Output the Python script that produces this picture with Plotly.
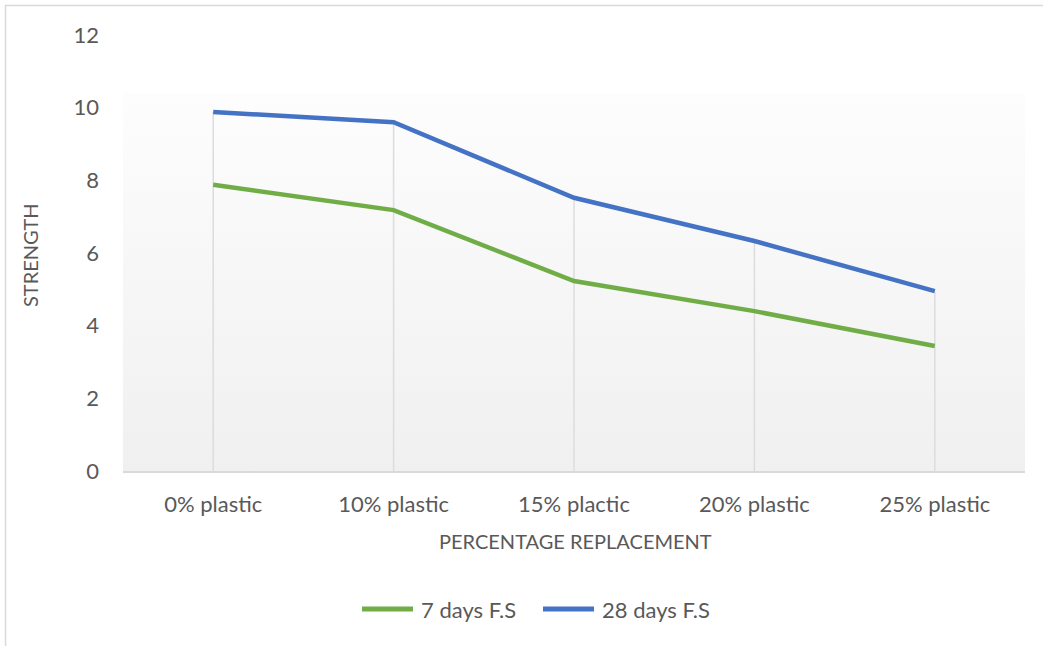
import base64
import plotly.graph_objects as go

categories = ["0% plastic", "10% plastic", "15% plactic", "20% plastic", "25% plastic"]
series_7 = [7.88, 7.18, 5.23, 4.40, 3.44]
series_28 = [9.88, 9.60, 7.52, 6.33, 4.95]
series_names = ["7 days F.S", "28 days F.S"]
y_ticks = [0, 2, 4, 6, 8, 10, 12]

GREEN = "#70ad47"
BLUE = "#4472c4"
TXT = "#595959"
FONT = "Lato"

xs = list(range(len(categories)))

fig = go.Figure()
fig.add_trace(go.Scatter(x=xs, y=series_7, mode="lines", name=series_names[0],
                         line=dict(color=GREEN, width=4.5), showlegend=False))
fig.add_trace(go.Scatter(x=xs, y=series_28, mode="lines", name=series_names[1],
                         line=dict(color=BLUE, width=4.5), showlegend=False))

# drop lines
for x, a, b in zip(xs, series_7, series_28):
    fig.add_shape(type="line", xref="x", yref="y", x0=x, x1=x, y0=0, y1=max(a, b),
                  line=dict(color="#dcdcdc", width=1.5), layer="below")

# gradient background of plot area
svg = ('<svg xmlns="http://www.w3.org/2000/svg" width="100" height="100" preserveAspectRatio="none">'
       '<defs><linearGradient id="g" x1="0" y1="0" x2="0" y2="1">'
       '<stop offset="0" stop-color="#fdfdfd"/><stop offset="1" stop-color="#f0f0f0"/>'
       '</linearGradient></defs><rect width="100" height="100" fill="url(#g)"/></svg>')
src = "data:image/svg+xml;base64," + base64.b64encode(svg.encode()).decode()
top_frac = (471 - 93) / 436
fig.add_layout_image(dict(source=src, xref="paper", yref="paper", x=0, y=top_frac,
                          sizex=1, sizey=top_frac, sizing="stretch", layer="below",
                          xanchor="left", yanchor="top"))

def px_x(p):
    return (p - 123) / 902

def px_y(p):
    return (471 - p) / 436

# outer border
fig.add_shape(type="rect", xref="paper", yref="paper",
              x0=px_x(5.5), x1=px_x(1060), y0=px_y(660), y1=px_y(5.5),
              line=dict(color="#d9d9d9", width=1.5), fillcolor="rgba(0,0,0,0)")

fig.add_annotation(text="PERCENTAGE REPLACEMENT", xref="paper", yref="paper",
                   x=px_x(575), y=px_y(541), showarrow=False,
                   font=dict(family=FONT, size=20, color=TXT), xanchor="center", yanchor="middle")
fig.add_annotation(text="STRENGTH", xref="paper", yref="paper",
                   x=px_x(30), y=px_y(255), showarrow=False, textangle=-90,
                   font=dict(family=FONT, size=20, color=TXT), xanchor="center", yanchor="middle")

# custom legend
legend_items = [(series_names[0], GREEN, 362, 413, 419), (series_names[1], BLUE, 543, 594, 600)]
for name, col, lx0, lx1, tx in legend_items:
    fig.add_shape(type="line", xref="paper", yref="paper", x0=px_x(lx0), x1=px_x(lx1),
                  y0=px_y(609), y1=px_y(609), line=dict(color=col, width=5))
    fig.add_annotation(text=name, xref="paper", yref="paper", x=px_x(tx), y=px_y(609),
                       showarrow=False, xanchor="left", yanchor="middle",
                       font=dict(family=FONT, size=22, color=TXT))

fig.update_layout(
    width=1043, height=646,
    margin=dict(l=123, r=18, t=35, b=175),
    paper_bgcolor="white", plot_bgcolor="rgba(0,0,0,0)",
    font=dict(family=FONT, color=TXT, size=22),
    showlegend=False,
)
fig.update_xaxes(range=[-0.5, 4.5], tickmode="array", tickvals=xs, ticktext=categories,
                 showgrid=False, zeroline=False, showline=True, linecolor="#d9d9d9", linewidth=1.5,
                 ticks="", ticklabelstandoff=13, tickfont=dict(size=22, color=TXT), fixedrange=True)
fig.update_yaxes(range=[0, 12], tickmode="array", tickvals=y_ticks,
                 showgrid=False, zeroline=False, showline=False,
                 ticks="", ticklabelstandoff=23, tickfont=dict(size=22, color=TXT), fixedrange=True)

fig.write_html("out.html")
